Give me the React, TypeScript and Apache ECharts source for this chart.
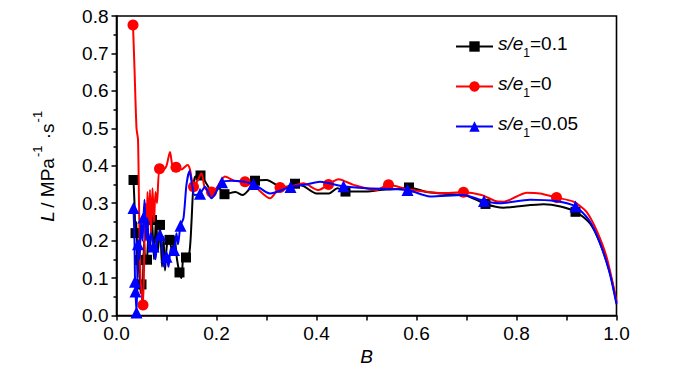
import React, { useEffect, useRef } from "react";
import * as echarts from "echarts";

// ---- data ----
const blackB = [0.034, 0.036, 0.038, 0.040, 0.042, 0.044, 0.046, 0.048, 0.050, 0.052, 0.055, 0.058, 0.061, 0.064, 0.067, 0.071, 0.075, 0.079, 0.083, 0.087, 0.091, 0.094, 0.097, 0.101, 0.106, 0.111, 0.116, 0.121, 0.126, 0.130, 0.134, 0.139, 0.146, 0.150, 0.153, 0.157, 0.168, 0.180, 0.192, 0.205, 0.216, 0.238, 0.252, 0.264, 0.277, 0.300, 0.334, 0.357, 0.375, 0.400, 0.425, 0.442, 0.458, 0.494, 0.527, 0.560, 0.585, 0.620, 0.650, 0.700, 0.738, 0.774, 0.800, 0.854, 0.888, 0.918, 0.947, 0.967, 0.987, 1.000];
const blackL = [0.362, 0.30, 0.22, 0.25, 0.10, 0.18, 0.148, 0.06, 0.083, 0.03, 0.20, 0.14, 0.149, 0.22, 0.18, 0.255, 0.15, 0.26, 0.17, 0.242, 0.13, 0.21, 0.12, 0.19, 0.202, 0.17, 0.21, 0.15, 0.115, 0.10, 0.16, 0.155, 0.17, 0.25, 0.33, 0.37, 0.374, 0.352, 0.33, 0.34, 0.324, 0.33, 0.322, 0.335, 0.36, 0.362, 0.34, 0.352, 0.345, 0.326, 0.326, 0.34, 0.331, 0.331, 0.335, 0.338, 0.342, 0.33, 0.326, 0.32, 0.298, 0.288, 0.291, 0.297, 0.291, 0.277, 0.246, 0.193, 0.113, 0.035];
const blackMark = [1, 0, 1, 0, 0, 0, 1, 0, 1, 0, 0, 0, 1, 0, 0, 1, 0, 0, 0, 1, 0, 0, 0, 0, 1, 0, 0, 0, 1, 0, 0, 1, 0, 0, 0, 0, 1, 0, 0, 0, 1, 0, 0, 0, 1, 0, 0, 1, 0, 0, 0, 0, 1, 0, 0, 0, 1, 0, 0, 0, 1, 0, 0, 0, 0, 1, 0, 0, 0, 0];

const redB = [0.033, 0.036, 0.040, 0.043, 0.045, 0.048, 0.053, 0.056, 0.058, 0.060, 0.062, 0.064, 0.067, 0.069, 0.072, 0.075, 0.078, 0.081, 0.086, 0.094, 0.100, 0.107, 0.112, 0.119, 0.130, 0.142, 0.147, 0.154, 0.162, 0.170, 0.177, 0.190, 0.200, 0.217, 0.235, 0.257, 0.280, 0.307, 0.327, 0.350, 0.374, 0.404, 0.424, 0.444, 0.474, 0.520, 0.544, 0.584, 0.650, 0.694, 0.730, 0.760, 0.775, 0.800, 0.820, 0.847, 0.880, 0.914, 0.940, 0.960, 0.980, 0.997, 1.000];
const redL = [0.776, 0.66, 0.50, 0.47, 0.30, 0.10, 0.028, 0.20, 0.30, 0.23, 0.33, 0.24, 0.335, 0.22, 0.34, 0.25, 0.33, 0.30, 0.392, 0.39, 0.40, 0.437, 0.40, 0.396, 0.39, 0.402, 0.39, 0.344, 0.36, 0.38, 0.34, 0.33, 0.34, 0.371, 0.36, 0.357, 0.34, 0.313, 0.342, 0.345, 0.353, 0.335, 0.350, 0.364, 0.349, 0.335, 0.349, 0.337, 0.327, 0.329, 0.322, 0.305, 0.304, 0.318, 0.328, 0.326, 0.315, 0.304, 0.277, 0.228, 0.157, 0.059, 0.035];
const redMark = [1, 0, 0, 0, 0, 0, 1, 0, 0, 0, 0, 0, 0, 0, 0, 0, 0, 0, 1, 0, 0, 0, 0, 1, 0, 0, 0, 1, 0, 0, 0, 1, 0, 0, 0, 1, 0, 0, 1, 0, 0, 0, 1, 0, 0, 0, 1, 0, 0, 1, 0, 0, 0, 0, 0, 0, 1, 0, 0, 0, 0, 0, 0];

const blueB = [0.034, 0.036, 0.037, 0.038, 0.040, 0.042, 0.043, 0.046, 0.049, 0.052, 0.054, 0.056, 0.059, 0.062, 0.065, 0.069, 0.074, 0.078, 0.082, 0.087, 0.092, 0.095, 0.100, 0.104, 0.109, 0.115, 0.120, 0.123, 0.128, 0.134, 0.140, 0.146, 0.151, 0.156, 0.167, 0.177, 0.190, 0.211, 0.230, 0.274, 0.307, 0.348, 0.380, 0.407, 0.454, 0.500, 0.582, 0.627, 0.693, 0.735, 0.767, 0.827, 0.880, 0.918, 0.945, 0.965, 0.985, 1.000];
const blueL = [0.287, 0.20, 0.09, 0.064, 0.008, 0.10, 0.19, 0.15, 0.25, 0.20, 0.262, 0.309, 0.20, 0.26, 0.17, 0.22, 0.184, 0.15, 0.21, 0.215, 0.17, 0.13, 0.157, 0.13, 0.18, 0.175, 0.22, 0.19, 0.240, 0.26, 0.35, 0.386, 0.35, 0.322, 0.325, 0.344, 0.313, 0.356, 0.36, 0.351, 0.326, 0.343, 0.35, 0.357, 0.345, 0.34, 0.335, 0.318, 0.322, 0.306, 0.300, 0.309, 0.305, 0.291, 0.255, 0.200, 0.120, 0.030];
const blueMark = [1, 0, 1, 1, 1, 0, 1, 0, 0, 0, 1, 0, 0, 0, 0, 0, 1, 0, 0, 1, 0, 0, 1, 0, 0, 1, 0, 0, 1, 0, 0, 0, 0, 0, 1, 0, 0, 1, 0, 1, 0, 1, 0, 0, 1, 0, 1, 0, 0, 1, 0, 0, 0, 1, 0, 0, 0, 0];

const seriesNames = ["s/e1=0.1", "s/e1=0", "s/e1=0.05"];
const legendValues = ["0.1", "0", "0.05"];
const seriesColors = ["#000000", "#ff0000", "#0000ff"];
const seriesSymbols = ["rect", "circle", "triangle"];
const seriesSymbolSizes = [10, 11, 12];

const FONT = "'Liberation Sans', Arial, sans-serif";

function build(b: number[], l: number[], m: number[], sym: string) {
  return b.map((x, i) => ({ value: [x, l[i]], symbol: m[i] ? sym : "none" }));
}

export default function App() {
  const ref = useRef<HTMLDivElement>(null);
  useEffect(() => {
    document.body.style.margin = "0";
    if (!ref.current) return;
    const chart = echarts.init(ref.current, undefined, { renderer: "svg" });
    const datasets = [
      build(blackB, blackL, blackMark, seriesSymbols[0]),
      build(redB, redL, redMark, seriesSymbols[1]),
      build(blueB, blueL, blueMark, seriesSymbols[2]),
    ];
    chart.setOption({
      animation: false,
      backgroundColor: "#ffffff",
      grid: {
        left: 116.5,
        right: 83.5,
        top: 16,
        bottom: 58.5,
        show: true,
        borderColor: "#000",
        borderWidth: 1.6,
      },
      legend: {
        orient: "vertical",
        left: 450,
        top: 29,
        itemWidth: 37,
        itemHeight: 13,
        itemGap: 15,
        data: seriesNames,
        formatter: (name: string) => {
          const idx = seriesNames.indexOf(name);
          return `{i|s/e}{sub|1}{n|=${legendValues[idx]}}`;
        },
        textStyle: {
          rich: {
            i: { fontFamily: FONT, fontSize: 19, fontStyle: "italic", color: "#000", verticalAlign: "bottom", padding: [0, 0, 6, 0] },
            sub: { fontFamily: FONT, fontSize: 12, color: "#000", verticalAlign: "bottom" },
            n: { fontFamily: FONT, fontSize: 19, color: "#000", verticalAlign: "bottom", padding: [0, 0, 6, 0] },
          },
        },
      },
      xAxis: {
        type: "value",
        min: 0,
        max: 1,
        interval: 0.2,
        name: "B",
        nameLocation: "middle",
        nameGap: 27,
        nameTextStyle: { fontFamily: FONT, fontSize: 19, fontStyle: "italic", color: "#000" },
        axisLine: { show: true, lineStyle: { color: "#000", width: 1.6 } },
        axisTick: { show: true, length: 5, lineStyle: { color: "#000", width: 1.5 } },
        minorTick: { show: true, splitNumber: 2, length: 5, lineStyle: { color: "#000", width: 1.5 } },
        axisLabel: { fontFamily: FONT, fontSize: 19, color: "#000", margin: 8, formatter: (v: number) => v.toFixed(1) },
        splitLine: { show: false },
      },
      yAxis: {
        type: "value",
        min: 0,
        max: 0.8,
        interval: 0.1,
        name: "{i|L} {n|/ MPa}{sup|-1}{n| ·s}{sup|-1}",
        nameLocation: "middle",
        nameRotate: 90,
        nameGap: 60,
        nameTextStyle: {
          rich: {
            i: { fontFamily: FONT, fontSize: 19, fontStyle: "italic", color: "#000", verticalAlign: "bottom" },
            n: { fontFamily: FONT, fontSize: 19, color: "#000", verticalAlign: "bottom" },
            sup: { fontFamily: FONT, fontSize: 13, color: "#000", verticalAlign: "bottom", padding: [0, 1, 13, 1] },
          },
        },
        axisLine: { show: true, lineStyle: { color: "#000", width: 1.6 } },
        axisTick: { show: true, length: 5, lineStyle: { color: "#000", width: 1.5 } },
        minorTick: { show: true, splitNumber: 2, length: 3, lineStyle: { color: "#000", width: 1.5 } },
        axisLabel: { fontFamily: FONT, fontSize: 19, color: "#000", margin: 8, formatter: (v: number) => v.toFixed(1) },
        splitLine: { show: false },
      },
      series: datasets.map((d, k) => ({
        name: seriesNames[k],
        type: "line",
        data: d,
        symbol: seriesSymbols[k],
        symbolSize: seriesSymbolSizes[k],
        showSymbol: true,
        smooth: 0.25,
        color: seriesColors[k],
        lineStyle: { color: seriesColors[k], width: 2 },
        itemStyle: { color: seriesColors[k] },
        z: 2 + k,
      })),
    });
    return () => chart.dispose();
  }, []);
  return <div ref={ref} style={{ width: 700, height: 374 }} />;
}
